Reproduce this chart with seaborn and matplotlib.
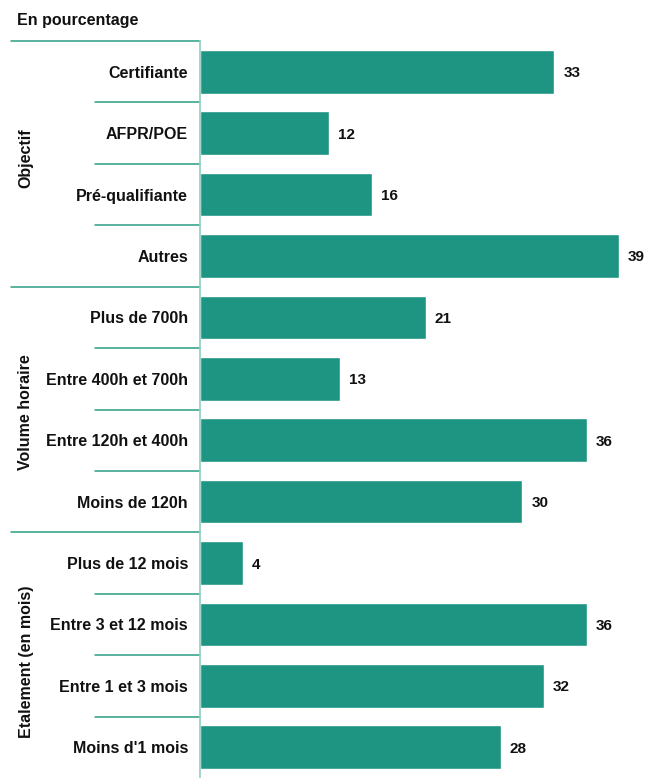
import pandas as pd
import matplotlib.pyplot as plt
import matplotlib.transforms as mtransforms
import seaborn as sns

categories = ['Certifiante', 'AFPR/POE', 'Pré-qualifiante', 'Autres',
              'Plus de 700h', 'Entre 400h et 700h', 'Entre 120h et 400h', 'Moins de 120h',
              'Plus de 12 mois', 'Entre 3 et 12 mois', 'Entre 1 et 3 mois', "Moins d'1 mois"]
values = [33, 12, 16, 39, 21, 13, 36, 30, 4, 36, 32, 28]
groups = ['Objectif', 'Volume horaire', 'Etalement (en mois)']
group_sizes = [4, 4, 4]
# slight vertical offsets of the group titles (in rows), as in the original
group_label_shift = [-0.1, 0.04, 0.11]

bar_color = '#1e9582'
line_color = '#2a9d84'

df = pd.DataFrame({'cat': categories, 'val': values})

sns.set_style('white')
plt.rcParams['font.family'] = ['Liberation Sans', 'DejaVu Sans']

fig = plt.figure(figsize=(6.47, 7.78), dpi=100)
ax = fig.add_axes([200 / 647, 0.0, 447 / 647, 1 - 41 / 778])

sns.barplot(data=df, x='val', y='cat', orient='h', color=bar_color,
            saturation=1, width=0.71, ax=ax)

ax.set_xlim(0, 447 / 10.74)
ax.set_ylim(len(categories) - 0.5, -0.5)
ax.set_xlabel('')
ax.set_ylabel('')
ax.set_xticks([])
ax.set_yticks([])
for s in ['top', 'right', 'bottom']:
    ax.spines[s].set_visible(False)
ax.spines['left'].set_color('#8fcfc0')
ax.spines['left'].set_linewidth(1.2)

for i, v in enumerate(values):
    ax.text(v + 0.85, i, str(v), va='center_baseline', ha='left', fontsize=11,
            fontweight='bold', color='#111111')

# category labels and separator lines (left of the axis)
trans = mtransforms.blended_transform_factory(fig.transFigure, ax.transData)
x_axis = 200 / 647
for i, c in enumerate(categories):
    ax.text(188 / 647, i, c, transform=trans, ha='right', va='center_baseline',
            fontsize=11.5, fontweight='bold', color='#111111')

start = 0
for g, n, sh in zip(groups, group_sizes, group_label_shift):
    top = start - 0.5
    ax.plot([11 / 647, x_axis], [top, top], transform=trans, color=line_color,
            lw=1.1, clip_on=False)
    for k in range(1, n):
        y = start + k - 0.5
        ax.plot([95 / 647, x_axis], [y, y], transform=trans, color=line_color,
                lw=1.1, clip_on=False)
    ax.text(26 / 647, start + (n - 1) / 2 + sh, g, transform=trans, rotation=90,
            ha='center', va='center', fontsize=11.5, fontweight='bold',
            color='#111111')
    start += n

fig.text(17 / 647, 1 - 21 / 778, 'En pourcentage', ha='left', va='center',
         fontsize=11.5, fontweight='bold', color='#111111')

fig.savefig('out.png', dpi=100)
